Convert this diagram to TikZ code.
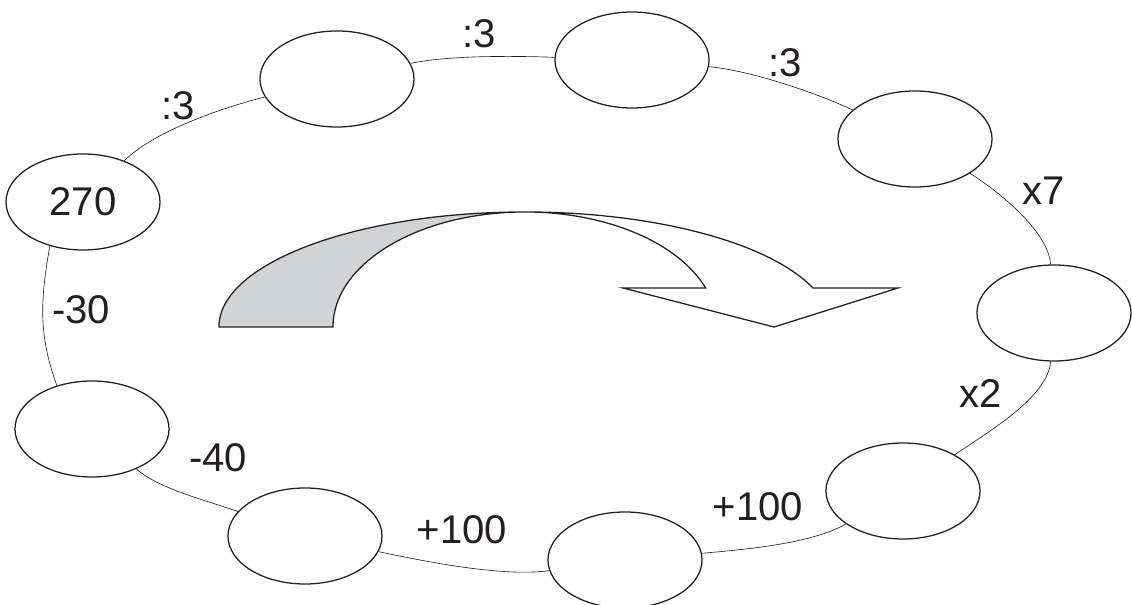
\documentclass[tikz,border=0pt]{standalone}
\usepackage{fontspec}
\setmainfont{Liberation Sans}
\definecolor{ink}{RGB}{35, 31, 32}
\definecolor{shadegray}{RGB}{209, 211, 212}
\usepackage{tikz}
\usetikzlibrary{shapes, arrows.meta, positioning, calc}

\begin{document}
\begin{tikzpicture}[x=0.025cm, y=0.025cm,
  cell/.style={draw=ink, ellipse, line width=0.9pt, fill=white, minimum width=3.85cm, minimum height=2.4cm, inner sep=0pt, text=ink, font=\fontsize{28.5}{34}\selectfont},
  oplabel/.style={text=ink, inner sep=1pt, font=\fontsize{28.5}{34}\selectfont},
  ring/.style={draw=ink, line width=0.45pt, looseness=0.7}]
  \useasboundingbox (0,0) rectangle (1132,605);

  % Curved arrow in the middle
  \coordinate (hub) at (525,278);
  \filldraw[fill=shadegray, draw=ink, line width=0.9pt] ($(hub)+(-7.65cm,0)$) arc[start angle=180, end angle=90, x radius=7.65cm, y radius=2.875cm] arc[start angle=90, end angle=180, x radius=4.8cm, y radius=2.875cm] -- cycle;
  \filldraw[fill=white, draw=ink, line width=0.9pt] ($(hub)+(0,2.875cm)$) arc[start angle=90, end angle=19.8, x radius=7.65cm, y radius=2.875cm] -- (898,317) -- (774,278) -- (623,317) -- ($(hub)+(19.8:4.8cm and 2.875cm)$) arc[start angle=19.8, end angle=90, x radius=4.8cm, y radius=2.875cm] -- cycle;

  % The cycle of numbers
  \node[cell] (n270) at (83,403) {270};
  \node[cell] (ntopl) at (337,526) {};
  \node[cell] (ntop) at (632,545) {};
  \node[cell] (ntopr) at (915,466) {};
  \node[cell] (nright) at (1054,292) {};
  \node[cell] (nbotr) at (903,114) {};
  \node[cell] (nbot) at (625,45) {};
  \node[cell] (nbotl) at (305,69) {};
  \node[cell] (nleft) at (92,176) {};

  \draw[ring] (n270) to[out=45, in=194] (ntopl);
  \draw[ring] (ntopl) to[out=12, in=178] (ntop);
  \draw[ring] (ntop) to[out=-5, in=155] (ntopr);
  \draw[ring] (ntopr) to[out=-32, in=94] (nright);
  \draw[ring] (nright) to[out=-94, in=35] (nbotr);
  \draw[ring] (nbotr) to[out=-150, in=5] (nbot);
  \draw[ring] (nbot) to[out=188, in=-12] (nbotl);
  \draw[ring] (nbotl) to[out=160, in=-42] (nleft);
  \draw[ring] (nleft.129) to[out=110, in=-100, looseness=1] (n270.-127);

  % Operations
  \node[oplabel] (op1) at (178,499) {:3};
  \node[oplabel] (op2) at (479,571) {:3};
  \node[oplabel] (op3) at (785,542) {:3};
  \node[oplabel] (op4) at (1044,414) {x7};
  \node[oplabel] (op5) at (981,211) {x2};
  \node[oplabel] (op6) at (758,98) {+100};
  \node[oplabel] (op7) at (462,75) {+100};
  \node[oplabel] (op8) at (218,147) {-40};
  \node[oplabel] (op9) at (81,295) {-30};
\end{tikzpicture}
\end{document}
